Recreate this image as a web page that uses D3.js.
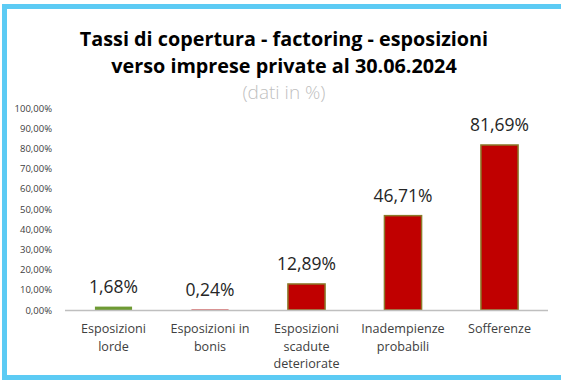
<!DOCTYPE html>
<html>
<head>
<meta charset="utf-8">
<script src="https://cdn.jsdelivr.net/npm/d3@7"></script>
<style>
  body { margin: 0; background: #fff; }
  svg { display: block; font-family: "Open Sans", "Noto Sans", sans-serif; }
</style>
</head>
<body>
<div id="chart"></div>
<script>
const categories = [
  ["Esposizioni", "lorde"],
  ["Esposizioni in", "bonis"],
  ["Esposizioni", "scadute", "deteriorate"],
  ["Inadempienze", "probabili"],
  ["Sofferenze"]
];
const values = [1.68, 0.24, 12.89, 46.71, 81.69];
const valueLabels = ["1,68%", "0,24%", "12,89%", "46,71%", "81,69%"];
const yTicks = [0, 10, 20, 30, 40, 50, 60, 70, 80, 90, 100];
const titleLines = ["Tassi di copertura - factoring - esposizioni", "verso imprese private al 30.06.2024"];
const subtitle = "(dati in %)";

const W = 561, H = 380;
const svg = d3.select("#chart").append("svg")
  .attr("width", W)
  .attr("height", H);

// outer frame
svg.append("rect")
  .attr("x", 4.5).attr("y", 6.5)
  .attr("width", W + 10).attr("height", 371)
  .attr("fill", "#fff")
  .attr("stroke", "#5CCBF4")
  .attr("stroke-width", 5);

// titles
svg.append("text")
  .selectAll("tspan")
  .data(titleLines)
  .join("tspan")
  .attr("x", 284)
  .attr("y", (d, i) => 45.5 + i * 27)
  .attr("text-anchor", "middle")
  .attr("font-size", 19.8)
  .attr("font-weight", "bold")
  .attr("fill", "#000")
  .text(d => d);

svg.append("text")
  .attr("x", 284).attr("y", 98.5)
  .attr("text-anchor", "middle")
  .attr("font-size", 19)
  .attr("font-weight", 300)
  .attr("fill", "#BFBFBF")
  .text(subtitle);

const margin = { left: 65, right: 13, top: 108, bottom: 70 };
const x = d3.scaleBand()
  .domain(d3.range(values.length))
  .range([margin.left, W - margin.right])
  .paddingInner(0.615)
  .paddingOuter(0.31);

const y = d3.scaleLinear()
  .domain([0, 100])
  .range([310, 108]);

// y axis (labels only)
const yAxis = d3.axisLeft(y)
  .tickValues(yTicks)
  .tickSize(0)
  .tickPadding(0)
  .tickFormat(d => d3.format(".2f")(d).replace(".", ",") + "%");

const gy = svg.append("g")
  .attr("transform", "translate(52,0)")
  .call(yAxis);
gy.select(".domain").remove();
gy.selectAll("text")
  .attr("font-size", 9.5)
  .attr("fill", "#404040")
  .attr("font-family", "'Open Sans', sans-serif");

// bars
const colors = ["#6E9A33", "#C00000", "#C00000", "#C00000", "#C00000"];
svg.append("g")
  .selectAll("rect")
  .data(values)
  .join("rect")
  .attr("x", (d, i) => x(i))
  .attr("y", d => y(d))
  .attr("width", x.bandwidth())
  .attr("height", d => y(0) - y(d))
  .attr("fill", (d, i) => colors[i])
  .attr("stroke", "#8A7A2A")
  .attr("stroke-width", d => d < 5 ? 0 : 1.5);

// baseline
svg.append("line")
  .attr("x1", margin.left).attr("x2", W - margin.right)
  .attr("y1", y(0) + 0.5).attr("y2", y(0) + 0.5)
  .attr("stroke", "#BFBFBF")
  .attr("stroke-width", 1.5);

// value labels
svg.append("g")
  .selectAll("text")
  .data(values)
  .join("text")
  .attr("x", (d, i) => x(i) + x.bandwidth() / 2)
  .attr("y", d => y(d) - 14)
  .attr("text-anchor", "middle")
  .attr("font-size", 17.5)
  .attr("fill", "#262626")
  .text((d, i) => valueLabels[i]);

// category labels
svg.append("g")
  .selectAll("text")
  .data(categories)
  .join("text")
  .attr("text-anchor", "middle")
  .attr("font-size", 12.6)
  .attr("fill", "#404040")
  .each(function(lines, i) {
    d3.select(this).selectAll("tspan")
      .data(lines)
      .join("tspan")
      .attr("x", x(i) + x.bandwidth() / 2)
      .attr("y", (d, j) => 333 + j * 17.7)
      .text(d => d);
  });
</script>
</body>
</html>
